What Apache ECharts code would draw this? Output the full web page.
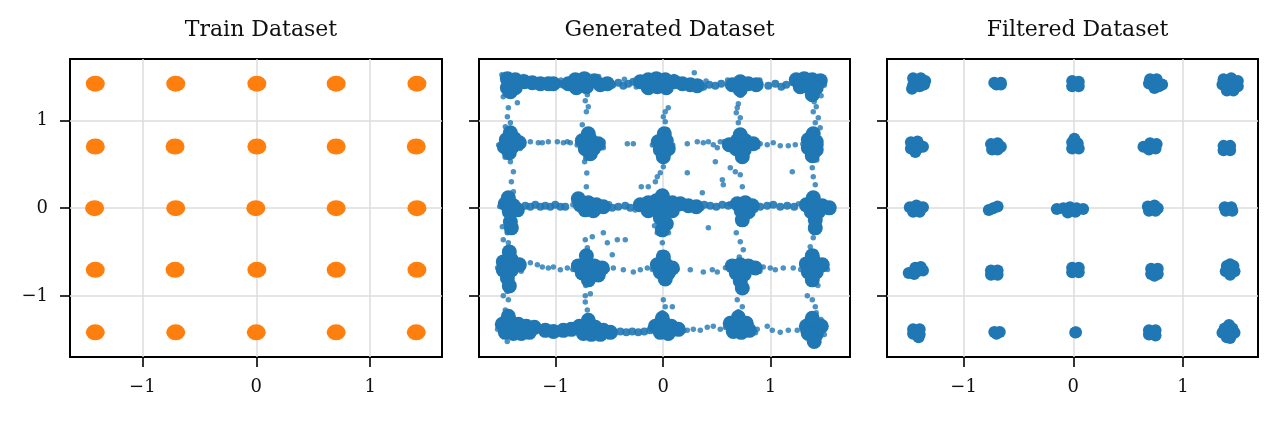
<!DOCTYPE html>
<html>
<head>
<meta charset="utf-8">
<script src="https://cdn.jsdelivr.net/npm/echarts@6/dist/echarts.min.js"></script>
<style>
  html, body { margin: 0; padding: 0; background: #fff; }
  #chart { width: 1280px; height: 421px; }
</style>
</head>
<body>
<div id="chart"></div>
<script>
const titles = ['Train Dataset', 'Generated Dataset', 'Filtered Dataset']
const tickValues = [-1, 0, 1]
const xRanges = [[-1.635, 1.63], [-1.713, 1.739], [-1.698, 1.684]]
const yRange = [-1.696, 1.70]

// one mark per tight training blob
const trainPoints = [
  [-1.413, 1.419], [-0.707, 1.419], [0.005, 1.419], [0.701, 1.419], [1.410, 1.419],
  [-1.413, 0.703], [-0.713, 0.703], [0.005, 0.703], [0.701, 0.703], [1.404, 0.703],
  [-1.419, 0.000], [-0.707, 0.000], [-0.004, 0.000], [0.701, 0.000], [1.410, 0.000],
  [-1.413, -0.703], [-0.713, -0.703], [0.005, -0.703], [0.701, -0.703], [1.410, -0.703],
  [-1.413, -1.415], [-0.707, -1.415], [0.000, -1.415], [0.701, -1.415], [1.404, -1.415]
]

// generated: dense cores of the clusters
const generatedCore = [
  [-1.449, 1.476], [-1.449, 1.373], [-1.375, 1.464], [-1.375, 1.373], [-1.291, 1.441], [-1.217, 1.430],
  [-1.142, 1.418], [-1.068, 1.418], [-1.021, 1.418], [-1.421, 1.327],
  [-0.882, 1.418], [-0.817, 1.464], [-0.807, 1.373], [-0.733, 1.476], [-0.714, 1.384], [-0.640, 1.453],
  [-0.584, 1.407], [-0.519, 1.418],
  [-0.212, 1.441], [-0.138, 1.464], [-0.138, 1.373], [-0.063, 1.476], [-0.054, 1.384], [0.020, 1.464],
  [0.030, 1.373], [0.104, 1.441], [0.179, 1.418], [0.253, 1.407], [0.318, 1.396],
  [0.644, 1.407], [0.718, 1.441], [0.718, 1.350], [0.793, 1.418], [0.867, 1.407],
  [1.239, 1.464], [1.313, 1.476], [1.388, 1.464], [1.462, 1.453], [1.276, 1.384], [1.351, 1.384],
  [1.425, 1.373], [1.388, 1.293],

  [-1.459, 0.780], [-1.384, 0.791], [-1.477, 0.700], [-1.403, 0.700], [-1.338, 0.746], [-1.421, 0.859], [-1.431, 0.631],
  [-0.752, 0.768], [-0.677, 0.780], [-0.603, 0.734], [-0.724, 0.677], [-0.649, 0.677], [-0.696, 0.848], [-0.677, 0.620],
  [-0.045, 0.757], [0.030, 0.768], [-0.026, 0.665], [0.048, 0.677], [0.011, 0.848], [0.002, 0.586],
  [0.616, 0.722], [0.690, 0.768], [0.765, 0.768], [0.839, 0.734], [0.681, 0.677], [0.755, 0.665], [0.718, 0.837], [0.737, 0.586],
  [1.351, 0.780], [1.425, 0.757], [1.351, 0.688], [1.425, 0.665], [1.388, 0.597], [1.397, 0.848],

  [-1.468, 0.050], [-1.393, 0.027], [-1.431, -0.041], [-1.356, -0.019], [-1.440, 0.118], [-1.421, -0.156], [-1.412, -0.224],
  [-0.770, 0.038], [-0.696, 0.061], [-0.621, 0.038], [-0.556, 0.016], [-0.724, -0.019], [-0.649, -0.030], [-0.789, 0.107],
  [-0.212, 0.038], [-0.138, 0.061], [-0.063, 0.084], [0.011, 0.072], [0.086, 0.061], [0.160, 0.050], [0.235, 0.027],
  [0.309, 0.016], [-0.138, -0.030], [-0.063, -0.019], [0.011, -0.019], [0.086, -0.030], [-0.026, -0.110],
  [0.030, -0.178], [-0.007, -0.247], [-0.007, 0.141],
  [0.690, 0.050], [0.765, 0.061], [0.830, 0.027], [0.727, -0.030], [0.793, -0.041], [0.737, -0.133],
  [1.333, 0.038], [1.406, 0.061], [1.481, 0.027], [1.546, 0.004], [1.379, -0.041], [1.444, -0.041], [1.397, 0.118],
  [1.416, -0.133], [1.416, -0.224],

  [-1.487, -0.612], [-1.412, -0.589], [-1.338, -0.646], [-1.487, -0.703], [-1.412, -0.703], [-1.449, -0.795],
  [-1.431, -0.886], [-1.431, -0.498],
  [-0.789, -0.658], [-0.714, -0.623], [-0.640, -0.658], [-0.566, -0.681], [-0.752, -0.738], [-0.677, -0.738],
  [-0.714, -0.543], [-0.696, -0.817], [-0.603, -0.761],
  [-0.054, -0.646], [0.020, -0.635], [0.086, -0.681], [-0.026, -0.726], [0.048, -0.738], [0.002, -0.555], [0.020, -0.806],
  [0.644, -0.658], [0.718, -0.646], [0.793, -0.658], [0.858, -0.681], [0.681, -0.738], [0.755, -0.749], [0.718, -0.829], [0.737, -0.909],
  [1.333, -0.635], [1.406, -0.612], [1.481, -0.646], [1.351, -0.726], [1.425, -0.726], [1.388, -0.817], [1.388, -0.543],

  [-1.496, -1.323], [-1.421, -1.301], [-1.347, -1.323], [-1.273, -1.346], [-1.198, -1.358], [-1.468, -1.415],
  [-1.393, -1.427], [-1.319, -1.427], [-1.245, -1.415], [-1.440, -1.233], [-1.096, -1.392], [-1.021, -1.404],
  [-0.928, -1.392], [-0.854, -1.381], [-0.779, -1.346], [-0.705, -1.335], [-0.631, -1.358], [-0.556, -1.392],
  [-0.742, -1.427], [-0.668, -1.438], [-0.584, -1.438], [-0.491, -1.415], [-0.696, -1.278],
  [-0.072, -1.346], [0.002, -1.323], [0.076, -1.346], [0.142, -1.381], [-0.026, -1.415], [0.048, -1.427], [-0.007, -1.255],
  [0.625, -1.312], [0.700, -1.289], [0.774, -1.312], [0.653, -1.404], [0.727, -1.415], [0.802, -1.392], [0.700, -1.244],
  [1.333, -1.346], [1.406, -1.312], [1.472, -1.346], [1.351, -1.427], [1.425, -1.438], [1.388, -1.255], [1.406, -1.518]
]

// generated: thick bands between neighbouring clusters
const generatedBand = [
  [-0.970, 1.420], [-0.930, 1.410], [-0.473, 1.407], [-0.417, 1.430], [-0.370, 1.396], [-0.324, 1.418], [-0.277, 1.441],
  [0.374, 1.384], [0.430, 1.407], [0.486, 1.396], [0.541, 1.418], [0.720, 1.300],
  [0.979, 1.396], [1.044, 1.418], [1.100, 1.384], [1.146, 1.407],
  [-1.282, 0.027], [-1.235, 0.016], [-1.189, 0.038], [-1.142, 0.016], [-1.096, 0.027], [-1.049, 0.016],
  [-1.003, 0.038], [-0.956, 0.016], [-0.910, 0.016], [-0.473, 0.004], [-0.417, 0.016], [-0.352, 0.027], [-0.305, 0.004],
  [0.383, 0.038], [0.439, 0.027], [0.495, 0.016], [0.551, 0.038], [0.607, 0.027],
  [0.904, 0.016], [0.969, 0.027], [1.025, 0.038], [1.090, 0.016], [1.155, 0.027], [1.220, 0.016],
  [-0.398, -1.404], [-0.342, -1.415], [-0.287, -1.404], [-0.231, -1.415], [-0.175, -1.404], [-0.119, -1.392]
]

// generated: loose single samples
const generatedDots = [
  [0.290, 1.544],
  [-1.487, 1.270], [-1.356, 1.201], [-1.440, 1.144], [-1.449, 1.042], [-1.421, 0.974], [-1.468, 0.928], [-1.430, 0.893],
  [-0.705, 1.293], [-0.724, 1.225], [-0.696, 1.156], [-0.714, 1.099], [-0.752, 0.951],
  [0.048, 1.144], [0.020, 1.099], [0.002, 1.042], [0.020, 0.985], [0.039, 0.893],
  [0.700, 1.190], [0.690, 1.144], [0.681, 1.087], [0.718, 1.031], [0.700, 0.974],
  [1.406, 1.213], [1.425, 1.156], [1.397, 1.099], [1.444, 1.031], [1.416, 0.974], [1.462, 0.917],
  [-1.235, 0.757], [-1.161, 0.746], [-1.124, 0.746], [-1.068, 0.757], [-0.984, 0.757], [-0.928, 0.746],
  [-0.891, 0.757], [-0.863, 0.746], [-0.556, 0.688], [-0.333, 0.734], [-0.277, 0.734],
  [0.225, 0.734], [0.318, 0.757], [0.374, 0.746], [0.421, 0.757], [0.467, 0.722], [0.504, 0.688], [0.532, 0.757],
  [0.904, 0.734], [0.969, 0.722], [1.025, 0.746], [1.090, 0.711], [1.165, 0.711], [1.230, 0.722],
  [-1.440, 0.643], [-1.421, 0.529], [-1.393, 0.415], [-1.412, 0.301], [-1.393, 0.187],
  [-0.710, 0.400], [-0.714, 0.245], [-0.730, 0.530],
  [0.002, 0.472], [-0.026, 0.404], [-0.054, 0.358], [-0.072, 0.301], [-0.203, 0.244], [-0.138, 0.244], [0.020, 0.175],
  [0.225, 0.404], [0.486, 0.529], [0.551, 0.323], [0.560, 0.266], [0.625, 0.461], [0.672, 0.415], [0.718, 0.381],
  [0.737, 0.244], [0.365, 0.175],
  [1.202, 0.415], [1.388, 0.461], [1.397, 0.358], [1.416, 0.266], [1.430, 0.550],
  [-1.496, -0.213], [-1.449, -0.270], [-1.487, -0.361], [-1.440, -0.395],
  [-0.724, -0.361], [-0.659, -0.327], [-0.556, -0.281], [-0.519, -0.395], [-0.426, -0.361], [-0.352, -0.361],
  [-0.705, -0.452], [-0.473, -0.532],
  [-0.054, -0.281], [-0.007, -0.395], [-0.026, -0.509], [0.421, -0.224],
  [0.681, -0.281], [0.718, -0.384], [0.746, -0.475], [0.709, -0.555],
  [1.379, -0.247], [1.397, -0.338], [1.369, -0.441], [1.416, -0.498],
  [-1.235, -0.623], [-1.170, -0.646], [-1.124, -0.669], [-1.068, -0.681], [-1.021, -0.669], [-0.956, -0.703], [-0.891, -0.681],
  [-0.463, -0.681], [-0.370, -0.703], [-0.277, -0.726], [-0.212, -0.703], [-0.147, -0.681],
  [0.253, -0.703], [0.374, -0.726], [0.458, -0.703], [0.504, -0.726],
  [0.932, -0.669], [0.997, -0.681], [1.044, -0.703], [1.118, -0.681], [1.211, -0.681],
  [0.690, -1.045], [0.737, -1.124], [0.700, -1.181], [0.718, -1.216],
  [1.342, -0.997], [1.388, -1.045], [1.416, -1.124], [1.425, -1.193],
  [-1.487, -0.997], [-1.440, -1.045], [-1.468, -1.159],
  [-0.724, -0.997], [-0.677, -0.974], [-0.724, -1.068], [-0.705, -1.159],
  [0.002, -1.045], [0.020, -1.124], [-0.007, -1.193], [0.086, -1.124],
  [0.225, -1.392], [0.281, -1.381], [0.346, -1.392], [0.411, -1.358], [0.467, -1.346], [0.532, -1.381],
  [0.876, -1.381], [0.969, -1.346], [1.016, -1.392], [1.090, -1.415], [1.165, -1.392], [1.248, -1.392],
  // ragged edges round the clusters
  [-1.50, 1.52], [-1.30, 1.50], [-0.95, 1.46], [-0.60, 1.50], [-0.36, 1.47], [-0.25, 1.38], [0.10, 1.50],
  [0.40, 1.45], [0.60, 1.46], [0.90, 1.46], [1.20, 1.42], [1.50, 1.40], [1.47, 1.28], [-1.47, 1.30], [-1.40, 1.30],
  [-1.53, 0.72], [-1.33, 0.68], [-1.47, 0.58], [-0.80, 0.72], [-0.56, 0.76], [-0.72, 0.57], [-0.10, 0.72],
  [0.09, 0.72], [0.57, 0.76], [0.88, 0.70], [1.30, 0.73], [1.47, 0.72], [1.41, 0.55],
  [-1.52, 0.02], [-1.45, -0.28], [-0.84, 0.04], [-0.50, 0.05], [-0.26, -0.02], [0.36, 0.00], [0.62, 0.05],
  [0.86, -0.02], [1.26, 0.05], [1.58, 0.02], [-0.08, -0.20], [0.05, -0.28],
  [-1.54, -0.68], [-1.32, -0.72], [-1.45, -0.95], [-0.84, -0.70], [-0.52, -0.70], [-0.72, -0.88], [-0.10, -0.70],
  [0.13, -0.70], [0.58, -0.68], [0.90, -0.72], [1.28, -0.70], [1.53, -0.70], [1.44, -0.88],
  [-1.54, -1.38], [-1.45, -1.52], [-0.98, -1.44], [-0.45, -1.44], [-0.11, -1.35], [0.19, -1.40], [0.58, -1.36],
  [0.86, -1.42], [1.30, -1.40], [1.50, -1.44], [1.47, -1.27]
]

// filtered: a few samples per kept blob
const filteredPoints = [
  [-1.46, 1.48], [-1.39, 1.48], [-1.35, 1.45], [-1.46, 1.40], [-1.40, 1.39], [-1.36, 1.41], [-1.47, 1.36],
  [-0.72, 1.43], [-0.66, 1.43], [-0.70, 1.41], [-0.66, 1.41],
  [-0.01, 1.45], [0.05, 1.44], [-0.01, 1.39], [0.05, 1.39],
  [0.70, 1.47], [0.76, 1.47], [0.69, 1.42], [0.81, 1.41], [0.74, 1.37], [0.78, 1.39],
  [1.37, 1.47], [1.44, 1.48], [1.50, 1.45], [1.36, 1.41], [1.43, 1.40], [1.50, 1.39], [1.40, 1.34], [1.46, 1.34],

  [-1.48, 0.75], [-1.42, 0.76], [-1.48, 0.68], [-1.42, 0.68], [-1.37, 0.70], [-1.44, 0.64],
  [-0.75, 0.73], [-0.69, 0.74], [-0.66, 0.70], [-0.74, 0.67], [-0.69, 0.67],
  [-0.01, 0.75], [0.04, 0.74], [-0.01, 0.68], [0.05, 0.68], [0.01, 0.79],
  [0.64, 0.70], [0.70, 0.74], [0.76, 0.73], [0.69, 0.67], [0.75, 0.68],
  [1.37, 0.71], [1.43, 0.71], [1.37, 0.66], [1.43, 0.66],

  [-1.49, 0.01], [-1.43, 0.03], [-1.37, 0.01], [-1.46, -0.04], [-1.40, -0.04],
  [-0.77, -0.02], [-0.73, 0.00], [-0.69, 0.02],
  [-0.15, -0.01], [-0.09, 0.00], [-0.03, 0.01], [0.03, 0.00], [0.09, -0.01], [-0.05, -0.05], [0.02, -0.04],
  [0.68, 0.02], [0.74, 0.03], [0.77, 0.00], [0.69, -0.03], [0.75, -0.03],
  [1.38, 0.01], [1.44, 0.01], [1.39, -0.03], [1.45, -0.03],

  [-1.50, -0.74], [-1.45, -0.75], [-1.44, -0.68], [-1.39, -0.67], [-1.37, -0.71], [-1.42, -0.72],
  [-0.75, -0.71], [-0.69, -0.71], [-0.75, -0.76], [-0.69, -0.76],
  [-0.01, -0.68], [0.05, -0.68], [-0.01, -0.73], [0.05, -0.73], [0.02, -0.70],
  [0.71, -0.69], [0.77, -0.69], [0.71, -0.75], [0.77, -0.75], [0.74, -0.77],
  [1.40, -0.66], [1.46, -0.66], [1.39, -0.72], [1.47, -0.72], [1.43, -0.76], [1.43, -0.64],

  [-1.46, -1.38], [-1.40, -1.38], [-1.46, -1.43], [-1.40, -1.44], [-1.41, -1.47],
  [-0.72, -1.41], [-0.67, -1.41], [-0.70, -1.43],
  [0.018, -1.418], [0.025, -1.415],
  [0.69, -1.39], [0.75, -1.39], [0.69, -1.44], [0.75, -1.45],
  [1.38, -1.37], [1.45, -1.37], [1.36, -1.42], [1.47, -1.42], [1.40, -1.47], [1.43, -1.48], [1.42, -1.33]
]

const panels = [
  { left: 70, width: 372 },
  { left: 479, width: 371 },
  { left: 887, width: 371 }
]
const serif = 'DejaVu Serif'
const ink = '#111'
const blue = '#1f77b4'
const fmt = v => String(v).replace('-', '\u2212')

const tick = { show: true, length: 10, customValues: tickValues, lineStyle: { color: '#000', width: 1.6 } }
const split = { show: true, lineStyle: { color: '#dcdcdc', width: 1.5 } }
const label = { customValues: tickValues, formatter: fmt, fontFamily: serif, fontSize: 18, color: ink }

const option = {
  animation: false,
  backgroundColor: '#fff',
  title: titles.map((t, i) => ({
    text: t,
    left: panels[i].left + panels[i].width / 2,
    top: 14,
    textAlign: 'center',
    textStyle: { fontFamily: serif, fontSize: 22, fontWeight: 'normal', color: ink }
  })),
  grid: panels.map(p => ({
    left: p.left, top: 59, width: p.width, height: 298,
    show: true, borderColor: '#000', borderWidth: 2, backgroundColor: 'transparent'
  })),
  xAxis: panels.map((p, i) => ({
    type: 'value', gridIndex: i, min: xRanges[i][0], max: xRanges[i][1],
    axisLine: { show: false, onZero: false },
    axisTick: tick,
    axisLabel: { ...label, margin: 21 },
    splitLine: split
  })),
  yAxis: panels.map((p, i) => ({
    type: 'value', gridIndex: i, min: yRange[0], max: yRange[1],
    axisLine: { show: false, onZero: false },
    axisTick: tick,
    axisLabel: { ...label, show: i === 0, margin: 22 },
    splitLine: split
  })),
  series: [
    { type: 'scatter', xAxisIndex: 0, yAxisIndex: 0, data: trainPoints, symbolSize: [19, 16], silent: true,
      itemStyle: { color: '#ff7f0e', opacity: 1 } },
    { type: 'scatter', xAxisIndex: 1, yAxisIndex: 1, data: generatedCore, symbolSize: 15, silent: true,
      itemStyle: { color: blue, opacity: 1 } },
    { type: 'scatter', xAxisIndex: 1, yAxisIndex: 1, data: generatedBand, symbolSize: 8, silent: true,
      itemStyle: { color: blue, opacity: 0.9 } },
    { type: 'scatter', xAxisIndex: 1, yAxisIndex: 1, data: generatedDots, symbolSize: 5.5, silent: true,
      itemStyle: { color: blue, opacity: 0.8 } },
    { type: 'scatter', xAxisIndex: 2, yAxisIndex: 2, data: filteredPoints, symbolSize: 12, silent: true,
      itemStyle: { color: blue, opacity: 1 } }
  ]
}

const chart = echarts.init(document.getElementById('chart'))
chart.setOption(option)
</script>
</body>
</html>
